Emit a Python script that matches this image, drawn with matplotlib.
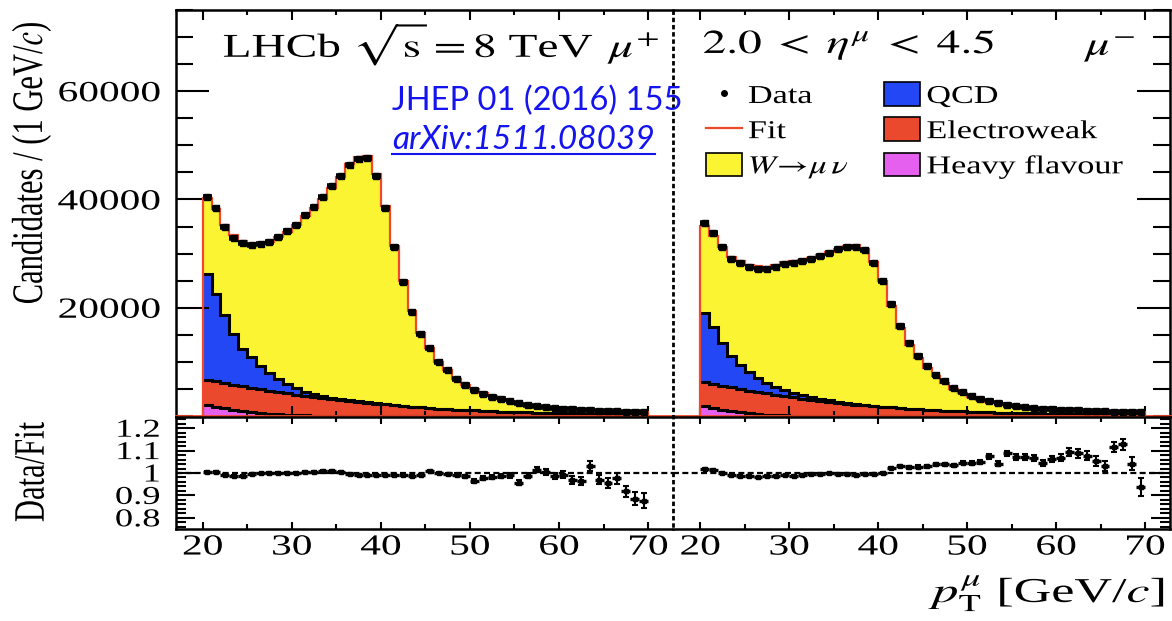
import numpy as np
import matplotlib
matplotlib.use('Agg')
import matplotlib.pyplot as plt
from matplotlib.lines import Line2D
from matplotlib.patches import Patch
from matplotlib.patheffects import AbstractPathEffect
from matplotlib.ticker import MultipleLocator
from matplotlib.transforms import Affine2D

plt.rcParams['font.family'] = ['Liberation Serif', 'DejaVu Serif']
plt.rcParams['mathtext.fontset'] = 'stix'

# 1 GeV/c bins in muon pT
pt_edges = np.arange(20, 71)
pt_centres = pt_edges[:-1] + 0.5

# ---- mu+ ----
plus_data = [40400, 38450, 34850, 32900, 31900, 31600, 31800, 32150, 33150, 34100,
             35300, 37100, 38600, 40450, 42450, 44350, 46350, 47400, 47700, 44400,
             38400, 31200, 24700, 19250, 15150, 12650, 10050, 8440, 6850, 5650,
             4800, 4150, 3600, 3100, 2700, 2350, 2080, 1830, 1630, 1450,
             1320, 1230, 1140, 1060, 990, 920, 860, 800, 750, 700]
plus_ratio = [1.005, 1.004, 0.990, 0.985, 0.988, 0.995, 0.998, 1.000, 1.000, 1.002,
              1.002, 1.005, 1.005, 1.010, 1.008, 1.003, 0.997, 0.992, 0.992, 0.992,
              0.992, 0.992, 0.990, 0.988, 0.992, 1.008, 1.000, 0.995, 0.992, 0.985,
              0.965, 0.977, 0.982, 0.988, 0.989, 0.957, 0.988, 1.015, 1.005, 0.985,
              0.992, 0.970, 0.965, 1.030, 0.970, 0.954, 0.977, 0.918, 0.885, 0.877]
plus_ratio_err = [0.004, 0.004, 0.004, 0.004, 0.004, 0.004, 0.004, 0.004, 0.004, 0.004,
                  0.004, 0.004, 0.004, 0.004, 0.004, 0.004, 0.004, 0.004, 0.004, 0.004,
                  0.005, 0.005, 0.005, 0.005, 0.005, 0.005, 0.005, 0.005, 0.006, 0.006,
                  0.008, 0.008, 0.009, 0.009, 0.010, 0.011, 0.012, 0.012, 0.013, 0.014,
                  0.016, 0.018, 0.019, 0.022, 0.020, 0.022, 0.024, 0.024, 0.030, 0.035]
plus_qcd = [19500, 16100, 12500, 9350, 6950, 5600, 4200, 3250, 2400, 1750,
            1150, 750, 450, 300, 200, 140, 100, 70, 50, 30,
            20, 10, 5, 0, 0, 0, 0, 0, 0, 0,
            0, 0, 0, 0, 0, 0, 0, 0, 0, 0,
            0, 0, 0, 0, 0, 0, 0, 0, 0, 0]
plus_ew = [4600, 4650, 4650, 4620, 4550, 4470, 4370, 4250, 4110, 3960,
           3800, 3630, 3455, 3280, 3110, 2935, 2765, 2600, 2445, 2290,
           2140, 2000, 1860, 1730, 1610, 1490, 1380, 1280, 1190, 1100,
           1020, 950, 880, 820, 760, 710, 660, 620, 580, 540,
           510, 480, 450, 420, 400, 380, 360, 340, 320, 300]
plus_hf = [2100, 1750, 1450, 1180, 950, 750, 580, 440, 330, 240,
           170, 120, 85, 60, 40, 25, 15, 10, 5, 0,
           0, 0, 0, 0, 0, 0, 0, 0, 0, 0,
           0, 0, 0, 0, 0, 0, 0, 0, 0, 0,
           0, 0, 0, 0, 0, 0, 0, 0, 0, 0]

# ---- mu- ----
minus_data = [35720, 33760, 31300, 29030, 28230, 27600, 27180, 27180, 27600, 28050,
              28350, 28660, 29030, 29580, 30190, 30810, 31300, 31300, 30690, 28350,
              24970, 20730, 16680, 13550, 11020, 9180, 7650, 6420, 5190, 4390,
              3650, 3170, 2730, 2430, 2120, 1810, 1620, 1440, 1320, 1230,
              1150, 1080, 1020, 960, 900, 850, 800, 760, 720, 680]
minus_ratio = [1.020, 1.015, 1.000, 0.989, 0.985, 0.988, 0.980, 0.988, 0.988, 0.989,
               0.988, 0.992, 0.995, 0.997, 0.998, 0.997, 0.995, 0.989, 0.995, 0.997,
               1.000, 1.023, 1.030, 1.026, 1.028, 1.030, 1.038, 1.038, 1.034, 1.046,
               1.046, 1.050, 1.074, 1.042, 1.088, 1.072, 1.072, 1.066, 1.046, 1.062,
               1.069, 1.092, 1.088, 1.077, 1.054, 1.030, 1.115, 1.128, 1.042, 0.938]
minus_ratio_err = [0.004, 0.004, 0.004, 0.004, 0.004, 0.004, 0.004, 0.004, 0.004, 0.004,
                   0.004, 0.004, 0.004, 0.004, 0.004, 0.004, 0.004, 0.004, 0.004, 0.004,
                   0.005, 0.005, 0.005, 0.006, 0.006, 0.006, 0.006, 0.007, 0.007, 0.008,
                   0.009, 0.009, 0.010, 0.010, 0.011, 0.012, 0.013, 0.013, 0.014, 0.015,
                   0.017, 0.018, 0.019, 0.020, 0.021, 0.022, 0.023, 0.025, 0.030, 0.040]
minus_qcd = [12900, 10600, 8000, 5800, 4500, 3500, 2600, 1950, 1450, 1050,
             800, 620, 480, 370, 280, 200, 140, 100, 70, 50,
             30, 20, 10, 5, 0, 0, 0, 0, 0, 0,
             0, 0, 0, 0, 0, 0, 0, 0, 0, 0,
             0, 0, 0, 0, 0, 0, 0, 0, 0, 0]
minus_ew = [4400, 4430, 4420, 4370, 4280, 4180, 4050, 3900, 3730, 3550,
            3360, 3170, 2980, 2795, 2615, 2440, 2275, 2120, 1970, 1830,
            1700, 1580, 1470, 1360, 1260, 1160, 1070, 990, 910, 840,
            780, 720, 670, 620, 580, 540, 500, 470, 440, 410,
            390, 370, 350, 330, 310, 290, 270, 260, 250, 240]
minus_hf = [1800, 1450, 1150, 900, 700, 520, 380, 270, 190, 130,
            90, 60, 40, 25, 15, 10, 5, 0, 0, 0,
            0, 0, 0, 0, 0, 0, 0, 0, 0, 0,
            0, 0, 0, 0, 0, 0, 0, 0, 0, 0,
            0, 0, 0, 0, 0, 0, 0, 0, 0, 0]

YELLOW = '#fbf433'
BLUE = '#2447f5'
EWRED = '#ea492e'
MAGENTA = '#e660f0'
FITRED = '#f0482a'
LINKBLUE = '#1414f0'


class Widen(AbstractPathEffect):
    # stretch the glyph outlines about an anchor point of the string
    def __init__(self, sx=1.0, sy=1.0, anchor_x=0.5, anchor_y=0.5):
        super().__init__()
        self.sx, self.sy = sx, sy
        self.anchor_x, self.anchor_y = anchor_x, anchor_y

    def draw_path(self, renderer, gc, tpath, affine, rgbFace=None):
        ext = tpath.get_extents()
        cx = ext.x0 + self.anchor_x * ext.width
        cy = ext.y0 + self.anchor_y * ext.height
        pre = Affine2D().translate(-cx, -cy).scale(self.sx, self.sy).translate(cx, cy)
        renderer.draw_path(gc, tpath, pre + affine, rgbFace)


SX = 1.42
W, H = 1172, 621
fig = plt.figure(figsize=(W / 100, H / 100), dpi=100)


def px_box(x0, y0, x1, y1):
    return [x0 / W, 1 - y1 / H, (x1 - x0) / W, (y1 - y0) / H]


def fpos(x, y):
    return x / W, 1 - y / H


top_l = fig.add_axes(px_box(175.5, 10, 673, 416))
top_r = fig.add_axes(px_box(673, 10, 1170, 416))
bot_l = fig.add_axes(px_box(175.5, 417, 673, 529))
bot_r = fig.add_axes(px_box(673, 417, 1170, 529))


def draw_stack(ax, data, ratio, rerr, qcd, ew, hf):
    data = np.asarray(data, float)
    fit = data / np.asarray(ratio)
    w = fit - np.asarray(qcd) - np.asarray(ew) - np.asarray(hf)
    tops = np.cumsum([hf, ew, qcd, w], axis=0)
    base = np.zeros(len(fit))
    for top, col in zip(tops, [MAGENTA, EWRED, BLUE, YELLOW]):
        ax.stairs(top, pt_edges, baseline=base, fill=True, color=col, lw=0, zorder=1)
        base = top
    for top in tops[:3]:
        ax.stairs(top, pt_edges, baseline=None, color='k', lw=2.2, zorder=2)
    ax.stairs(fit, pt_edges, baseline=0, color=FITRED, lw=1.6, zorder=3)
    ax.axhline(0, color=FITRED, lw=2, zorder=3, clip_on=False)
    ax.errorbar(pt_centres, data, xerr=0.5, yerr=np.asarray(rerr) * fit, fmt='s',
                color='k', ms=5, elinewidth=4, capsize=0, zorder=4)


def draw_ratio(ax, ratio, rerr):
    ax.axhline(1, color='k', lw=1.6, ls=(0, (2.7, 1.5)), zorder=1)
    ax.errorbar(pt_centres, ratio, xerr=0.5, fmt='s', color='k', ms=3.5,
                elinewidth=2.4, capsize=0, zorder=3)
    ax.errorbar(pt_centres, ratio, yerr=rerr, fmt='none', ecolor='k',
                elinewidth=1.5, capsize=2.5, capthick=1.5, zorder=3)


draw_stack(top_l, plus_data, plus_ratio, plus_ratio_err, plus_qcd, plus_ew, plus_hf)
draw_stack(top_r, minus_data, minus_ratio, minus_ratio_err, minus_qcd, minus_ew, minus_hf)
draw_ratio(bot_l, plus_ratio, plus_ratio_err)
draw_ratio(bot_r, minus_ratio, minus_ratio_err)

for ax in (top_l, top_r, bot_l, bot_r):
    ax.set_xlim(16.95, 72.8)
    for s in ax.spines.values():
        s.set_linewidth(1.8)
    ax.xaxis.set_major_locator(MultipleLocator(10))
    ax.xaxis.set_minor_locator(MultipleLocator(5))
    ax.tick_params(axis='both', which='both', direction='in', width=1.5,
                   top=True, bottom=True)
# the two charges are split by a dotted line drawn separately
for ax in (top_l, bot_l):
    ax.spines['right'].set_visible(False)
for ax in (top_r, bot_r):
    ax.spines['left'].set_visible(False)
for ax in (top_l, top_r):
    ax.spines['bottom'].set_visible(False)
    ax.set_ylim(0, 75000)
    ax.set_yticks([20000, 40000, 60000])
    ax.yaxis.set_minor_locator(MultipleLocator(5000))
    ax.tick_params(axis='x', which='major', length=7, labelbottom=False)
    ax.tick_params(axis='x', which='minor', length=3.6)
    ax.tick_params(axis='y', which='major', length=24)
    ax.tick_params(axis='y', which='minor', length=12)
for ax in (bot_l, bot_r):
    ax.set_ylim(0.75, 1.25)
    ax.set_yticks([0.8, 0.9, 1.0, 1.1, 1.2], ['0.8', '0.9', '1', '1.1', '1.2'])
    ax.yaxis.set_minor_locator(MultipleLocator(0.02))
    ax.tick_params(axis='x', which='major', length=5, labelsize=21, pad=4)
    ax.tick_params(axis='x', which='minor', length=3.5)
    ax.tick_params(axis='y', which='major', length=14)
    ax.tick_params(axis='y', which='minor', length=7)
top_l.tick_params(axis='y', which='both', left=True, right=False, labelsize=21, pad=11)
bot_l.tick_params(axis='y', which='both', left=True, right=False, labelsize=18.5, pad=11)
for ax in (top_r, bot_r):
    ax.tick_params(axis='y', which='both', left=False, right=True,
                   labelleft=False, labelright=False)

for lbl in top_l.get_yticklabels() + bot_l.get_yticklabels():
    lbl.set_path_effects([Widen(sx=SX, anchor_x=1.0)])
for lbl in bot_l.get_xticklabels() + bot_r.get_xticklabels():
    lbl.set_path_effects([Widen(sx=SX, anchor_x=0.5)])

fig.add_artist(Line2D([673 / W, 673 / W], [1 - 10 / H, 1 - 529 / H], transform=fig.transFigure,
                      color='k', lw=2.0, ls=(0, (1.6, 1.0))))

# legend in the mu- panel
handles = [
    Line2D([], [], ls='none', marker='o', ms=4, color='k'),
    Line2D([], [], color=FITRED, lw=1.6),
    Patch(facecolor=YELLOW, edgecolor='k', lw=1.2),
    Patch(facecolor=BLUE, edgecolor='k', lw=1.2),
    Patch(facecolor=EWRED, edgecolor='k', lw=1.2),
    Patch(facecolor=MAGENTA, edgecolor='k', lw=1.2),
]
labels = ['Data', 'Fit', r'$W\!\rightarrow\!\mu\,\nu$', 'QCD', 'Electroweak', 'Heavy flavour']
leg = top_r.legend(handles, labels, ncol=2, loc='upper left', bbox_to_anchor=(0.066, 0.822),
                   frameon=False, fontsize=18.5, handlelength=1.4, handleheight=1.05,
                   handletextpad=0.25, labelspacing=0.37, columnspacing=2.3,
                   borderpad=0, borderaxespad=0)
for t in leg.get_texts():
    t.set_path_effects([Widen(sx=1.33, anchor_x=0.0)])

left_wide = [Widen(sx=SX, anchor_x=0.0)]
right_wide = [Widen(sx=SX, anchor_x=1.0)]
fig.text(*fpos(223, 57), r'LHCb $\sqrt{\mathrm{s}} = 8$ TeV', fontsize=24,
         va='baseline', path_effects=left_wide)
fig.text(*fpos(661, 57), r'$\mu^{+}$', fontsize=24, ha='right', va='baseline',
         path_effects=right_wide)
fig.text(*fpos(703, 53), r'$2.0\;<\;\eta^{\mu}\;<\;4.5$', fontsize=24, va='baseline',
         path_effects=left_wide)
fig.text(*fpos(1137, 55), r'$\mu^{-}$', fontsize=24, ha='right', va='baseline',
         path_effects=right_wide)

fig.text(*fpos(31, 163), 'Candidates / (1 GeV/$c$)', rotation=90, fontsize=22,
         ha='center', va='center', path_effects=[Widen(sy=SX)])
fig.text(*fpos(32, 472), 'Data/Fit', rotation=90, fontsize=22,
         ha='center', va='center', path_effects=[Widen(sy=SX)])
fig.text(*fpos(1168, 602), r'$p_{\mathrm{T}}^{\mu}$ [GeV/$c$]', fontsize=25,
         ha='right', va='baseline', path_effects=[Widen(sx=1.5, anchor_x=1.0)])

# publication reference
fig.text(*fpos(392, 101), 'JHEP 01 (2016) 155', family='Lato', fontsize=23.5,
         color=LINKBLUE, va='center')
arxiv = fig.text(*fpos(392, 140), 'arXiv:1511.08039', family='Lato', style='italic',
                 fontsize=24, color=LINKBLUE, va='center')
fig.canvas.draw()
bb = arxiv.get_window_extent()
fig.add_artist(Line2D([bb.x0 / W, bb.x1 / W], [1 - 154 / H, 1 - 154 / H],
                      transform=fig.transFigure, color=LINKBLUE, lw=1.5))

fig.savefig('out.png', dpi=100)
